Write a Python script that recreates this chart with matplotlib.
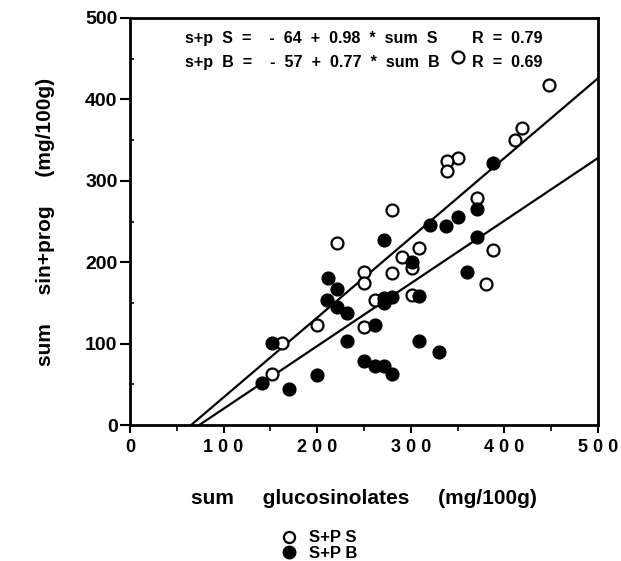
import matplotlib
matplotlib.use('Agg')
import matplotlib.pyplot as plt
import numpy as np
from matplotlib.lines import Line2D
from matplotlib.ticker import MultipleLocator, FuncFormatter

plt.rcParams['font.family'] = ['Liberation Sans', 'DejaVu Sans']
plt.rcParams['font.weight'] = 'bold'

# S+P S (open circles)
s_gluc = [350, 448, 419, 411, 350, 339, 339, 280, 371, 388, 380, 309,
          291, 301, 280, 250, 250, 262, 301, 250, 221, 200, 162, 152]
s_sinprog = [452, 418, 365, 350, 328, 324, 312, 264, 279, 215, 173, 217,
             207, 193, 187, 188, 174, 154, 160, 120, 224, 123, 101, 63]

# S+P B (filled circles)
b_gluc = [388, 371, 321, 338, 350, 371, 360, 271, 301, 271, 280, 271,
          309, 262, 309, 330, 250, 262, 271, 280, 212, 221, 210, 221,
          232, 152, 141, 170, 200, 232]
b_sinprog = [322, 265, 246, 244, 255, 231, 188, 227, 200, 156, 157, 150,
             158, 123, 103, 90, 79, 72, 72, 63, 180, 167, 153, 145,
             137, 101, 52, 44, 61, 103]

# regression fits: intercept, slope, R
fit_s = (-64, 0.98, 0.79)
fit_b = (-57, 0.77, 0.69)

fig = plt.figure(figsize=(6.21, 5.61), dpi=100)
ax = fig.add_axes([130 / 621, 1 - 425 / 561, 468 / 621, 407 / 561])

for a, b, _ in (fit_s, fit_b):
    xs = np.linspace(-a / b, 500, 50)
    ax.plot(xs, a + b * xs, color='black', lw=1.6, zorder=2)

ax.plot(s_gluc, s_sinprog, 'o', ms=8.6, mfc='white', mec='black', mew=1.6,
        ls='none', zorder=3)
ax.plot(b_gluc, b_sinprog, 'o', ms=9.2, mfc='black', mec='black',
        ls='none', zorder=4)

ax.set_xlim(0, 500)
ax.set_ylim(0, 500)
ax.xaxis.set_major_locator(MultipleLocator(100))
ax.xaxis.set_minor_locator(MultipleLocator(50))
ax.yaxis.set_major_locator(MultipleLocator(100))
ax.yaxis.set_minor_locator(MultipleLocator(50))
ax.xaxis.set_major_formatter(FuncFormatter(lambda v, p: ' '.join(str(int(v)))))

for sp in ax.spines.values():
    sp.set_linewidth(2)
ax.tick_params(axis='x', which='major', direction='out', length=6, width=1.5,
               labelsize=13, pad=4)
ax.tick_params(axis='x', which='minor', direction='out', length=4, width=1.2)
ax.tick_params(axis='y', which='major', direction='out', length=7, width=1.5,
               labelsize=14, pad=2)
ax.tick_params(axis='y', which='minor', direction='in', length=3, width=1.2)
for lab in ax.get_xticklabels() + ax.get_yticklabels():
    lab.set_fontweight('bold')

ax.set_xlabel('sum     glucosinolates     (mg/100g)', fontsize=15,
              fontweight='bold', labelpad=24)
ax.set_ylabel('sum     sin+prog     (mg/100g)', fontsize=15,
              fontweight='bold', labelpad=22)

# equations of the fitted lines
for (a, b, r), tag, yy in ((fit_s, 'S', 475), (fit_b, 'B', 445)):
    ax.text(59, yy, f's+p  {tag}  =    -  {abs(a)}  +  {b:.2f}  *  sum  {tag}',
            fontsize=11.6, fontweight='bold', va='center', ha='left')
    ax.text(365, yy, f'R  =  {r:.2f}', fontsize=11.6, fontweight='bold',
            va='center', ha='left')

handles = [Line2D([], [], marker='o', ls='none', ms=8, mfc='white',
                  mec='black', mew=1.6),
           Line2D([], [], marker='o', ls='none', ms=9, mfc='black',
                  mec='black')]
fig.legend(handles, ['S+P S', 'S+P B'], loc='upper left',
           bbox_to_anchor=(272 / 621, 1 - 522 / 561), frameon=False,
           handletextpad=0.7, labelspacing=0.05,
           borderpad=0, handlelength=1.0, prop={'weight': 'bold', 'size': 12})

fig.savefig('out.png', dpi=100)
